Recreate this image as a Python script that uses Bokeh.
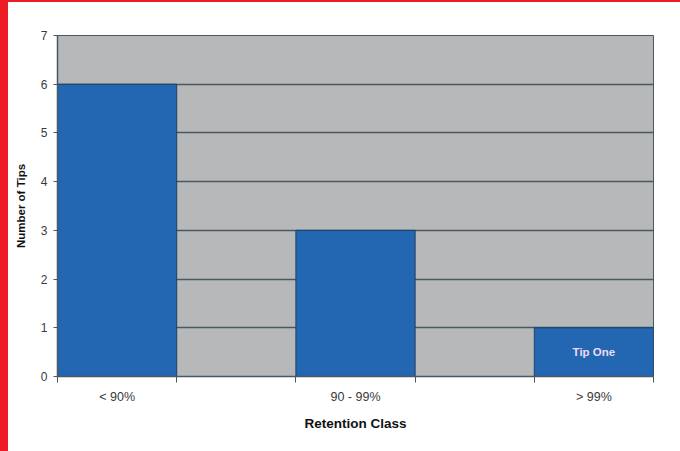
from bokeh.plotting import figure
from bokeh.models import ColumnDataSource, FixedTicker, Spacer, Label
from bokeh.layouts import column, row
from bokeh.embed import file_html
from bokeh.resources import INLINE

categories = ["< 90%", "90 - 99%", "> 99%"]
tips = [6, 3, 1]
y_ticks = [0, 1, 2, 3, 4, 5, 6, 7]
annotation_text = "Tip One"

# categories sit in alternating slots of a 5-slot axis
slot_pos = [2 * i + 0.5 for i in range(len(categories))]

src = ColumnDataSource(dict(x=slot_pos, top=tips, cat=categories))

FONT = "Liberation Sans"
LINE = "#4a5862"

p = figure(width=672, height=449, x_range=(0, 5), y_range=(0, 7),
           output_backend="svg", toolbar_location=None,
           min_border_left=49, min_border_right=27, min_border_top=33, min_border_bottom=75)
p.background_fill_color = "#b6b8ba"
p.border_fill_color = "white"
p.outline_line_color = LINE
p.outline_line_width = 1

p.vbar(x="x", top="top", width=1, bottom=0, source=src,
       fill_color="#2366b1", line_color="#1f3f66", line_width=1)

p.xgrid.visible = False
p.ygrid.ticker = FixedTicker(ticks=[1, 2, 3, 4, 5, 6])
p.ygrid.grid_line_color = LINE
p.ygrid.grid_line_width = 1.5

p.xaxis.ticker = FixedTicker(ticks=slot_pos, minor_ticks=[0, 1, 2, 3, 4, 5])
p.xaxis.major_label_overrides = {v: c for v, c in zip(slot_pos, categories)}
p.xaxis.major_tick_out = 0
p.xaxis.major_tick_in = 0
p.xaxis.minor_tick_out = 6
p.xaxis.minor_tick_in = 0
p.xaxis.minor_tick_line_color = LINE
p.xaxis.major_label_standoff = 7
p.xaxis.axis_label = "Retention Class"
p.xaxis.axis_label_standoff = 9

p.yaxis.ticker = FixedTicker(ticks=y_ticks)
p.yaxis.minor_tick_line_color = None
p.yaxis.major_tick_out = 4
p.yaxis.major_tick_in = 0
p.yaxis.major_label_standoff = 6
p.yaxis.axis_label = "Number of Tips"
p.yaxis.axis_label_standoff = 11

for ax in (p.xaxis, p.yaxis):
    ax.axis_line_color = LINE
    ax.axis_line_width = 1.5
    ax.major_tick_line_color = LINE
    ax.major_label_text_font = FONT
    ax.major_label_text_color = "#3a3a3a"
    ax.axis_label_text_font = FONT
    ax.axis_label_text_font_style = "bold"
    ax.axis_label_text_color = "#111111"

p.xaxis.major_label_text_font_size = "12.5px"
p.yaxis.major_label_text_font_size = "12px"
p.xaxis.axis_label_text_font_size = "13.5px"
p.yaxis.axis_label_text_font_size = "11.5px"

p.add_layout(Label(x=slot_pos[2], y=0.5, text=annotation_text, text_align="center",
                   text_baseline="middle", text_font=FONT, text_font_size="11.5px",
                   text_font_style="bold", text_color="#eadcf2"))

red = {"background-color": "#ed1c24"}
layout = column(
    Spacer(width=680, height=2, styles=red),
    row(Spacer(width=8, height=449, styles=red), p, spacing=0),
    spacing=0,
)

open("out.html", "w").write(file_html(layout, INLINE))
